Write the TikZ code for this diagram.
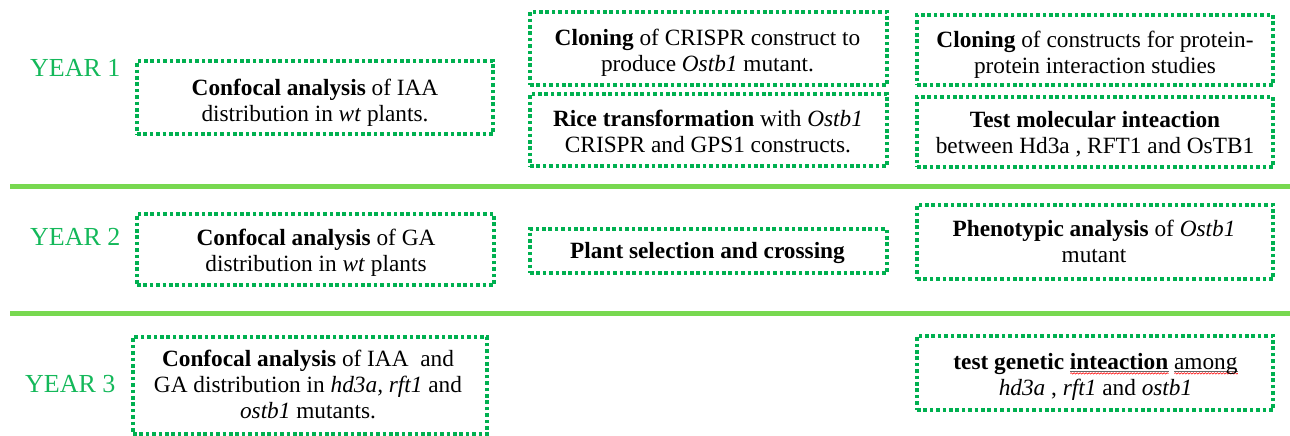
\documentclass[tikz,border=0pt]{standalone}
\usepackage{fontspec}
\setmainfont{Liberation Serif}
\usetikzlibrary{decorations.pathmorphing}
\newsavebox\wavebox
\newcommand\redwave[1]{\sbox\wavebox{#1}\rlap{\tikz[baseline=0pt]{\draw[black!60,line width=0.5pt] (0pt,-2.2pt) -- (\the\wd\wavebox,-2.2pt);\draw[red,line width=0.6pt,decorate,decoration={snake,amplitude=0.7pt,segment length=3pt}] (0pt,-4.2pt) -- (\the\wd\wavebox,-4.2pt);}}\usebox\wavebox}
\definecolor{boxgreen}{RGB}{0,176,80}
\definecolor{bargreen}{RGB}{120,216,80}
\definecolor{yeargreen}{RGB}{20,184,90}
\tikzset{
  taskbox/.style={draw=boxgreen, line width=3.2pt, dash pattern=on 3.6pt off 2.8pt, inner sep=0pt},
  tasktext/.style={inner sep=0pt, align=center, font=\fontsize{23.3}{26}\selectfont},
  yearlbl/.style={text=yeargreen, inner sep=0pt, anchor=base west, font=\fontsize{26}{30}\selectfont},
  bar/.style={draw=bargreen, line width=5pt}
}
\begin{document}
\begin{tikzpicture}[x=1pt,y=-1pt]
\useasboundingbox (0,0) rectangle (1290,436);
% year labels
\node[yearlbl] (y1) at (30,77) {YEAR 1};
\node[yearlbl] (y2) at (30,245) {YEAR 2};
\node[yearlbl] (y3) at (25,392) {YEAR 3};
% separator bars
\coordinate (b1l) at (10,186); \coordinate (b1r) at (1290,186);
\coordinate (b2l) at (10,313); \coordinate (b2r) at (1290,313);
\draw[bar] (b1l) -- (b1r);
\draw[bar] (b2l) -- (b2r);
% boxes
\node[taskbox, minimum width=356pt, minimum height=73pt] (a1) at (315,97.5) {};
\node[taskbox, minimum width=357pt, minimum height=73pt] (b1) at (708.5,48.5) {};
\node[taskbox, minimum width=357pt, minimum height=72pt] (b2) at (708.5,130) {};
\node[taskbox, minimum width=356pt, minimum height=70pt] (c1) at (1095,50) {};
\node[taskbox, minimum width=356pt, minimum height=70pt] (c2) at (1095,132) {};
\node[taskbox, minimum width=357pt, minimum height=71pt] (a2) at (315.5,249.5) {};
\node[taskbox, minimum width=357pt, minimum height=44pt] (b3) at (708.5,251) {};
\node[taskbox, minimum width=356pt, minimum height=74pt] (c3) at (1095,242) {};
\node[taskbox, minimum width=354pt, minimum height=97pt] (a3) at (310,385.5) {};
\node[taskbox, minimum width=356pt, minimum height=74pt] (c4) at (1095,373) {};
% texts
\node[tasktext] (a1t) at (315,103) {\strut\textbf{Confocal analysis} of IAA\\\strut distribution in \textit{wt} plants.};
\node[tasktext] (b1t) at (707.5,53.5) {\strut\textbf{Cloning} of CRISPR construct to\\\strut produce \textit{Ostb1} mutant.};
\node[tasktext] (b2t) at (708,134) {\strut\textbf{Rice transformation} with \textit{Ostb1}\\\strut CRISPR and GPS1 constructs.};
\node[tasktext] (c1t) at (1095,55.5) {\strut\textbf{Cloning} of constructs for protein-\\\strut protein interaction studies};
\node[tasktext] (c2t) at (1095,134.8) {\strut\textbf{Test molecular inteaction}\\\strut between Hd3a , RFT1 and OsTB1};
\node[tasktext] (a2t) at (316,253.3) {\strut\textbf{Confocal analysis} of GA\\\strut distribution in \textit{wt} plants};
\node[tasktext] (b3t) at (707.5,253.5) {\strut\textbf{Plant selection and crossing}};
\node[tasktext] (c3t) at (1094,244.3) {\strut\textbf{Phenotypic analysis} of \textit{Ostb1}\\\strut mutant};
\node[tasktext] (a3t) at (308,386.8) {\strut\textbf{Confocal analysis} of IAA\ \ and\\\strut GA distribution in \textit{hd3a, rft1} and\\\strut\textit{ostb1} mutants.};
\node[tasktext] (c4t) at (1095.5,377) {\strut\textbf{test genetic \redwave{inteaction}} \redwave{among}\\\strut\textit{hd3a} , \textit{rft1} and \textit{ostb1}};
\end{tikzpicture}
\end{document}
